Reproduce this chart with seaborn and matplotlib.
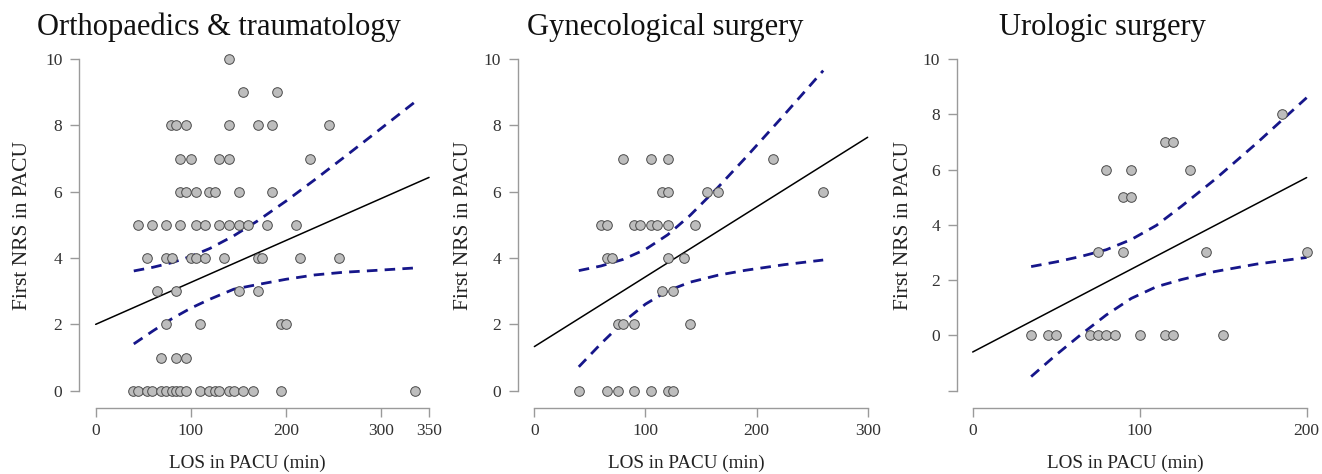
import numpy as np
import pandas as pd
import matplotlib
matplotlib.use("Agg")
import matplotlib.pyplot as plt
import seaborn as sns

# ---------------- data ----------------
panel_titles = ["Orthopaedics & traumatology", "Gynecological surgery", "Urologic surgery"]
x_label = "LOS in PACU (min)"
y_label = "First NRS in PACU"

# Orthopaedics & traumatology
ortho_los = [140,
             155, 190,
             79, 84, 95, 140, 170, 185, 245,
             89, 100, 130, 140, 225,
             89, 95, 105, 119, 125, 150, 185,
             44, 59, 74, 89, 105, 115, 130, 140, 150, 160, 180, 210,
             54, 74, 80, 100, 105, 115, 135, 170, 175, 215, 255,
             64, 84, 150, 170,
             74, 110, 195, 200,
             69, 84, 95,
             39, 44, 54, 59, 69, 74, 80, 84, 89, 95, 110, 119, 125, 130, 140, 145, 155, 165, 195, 335]
ortho_nrs = [10,
             9, 9,
             8, 8, 8, 8, 8, 8, 8,
             7, 7, 7, 7, 7,
             6, 6, 6, 6, 6, 6, 6,
             5, 5, 5, 5, 5, 5, 5, 5, 5, 5, 5, 5,
             4, 4, 4, 4, 4, 4, 4, 4, 4, 4, 4,
             3, 3, 3, 3,
             2, 2, 2, 2,
             1, 1, 1,
             0, 0, 0, 0, 0, 0, 0, 0, 0, 0, 0, 0, 0, 0, 0, 0, 0, 0, 0, 0]
ortho_fit_x = [0, 350]
ortho_fit_y = [2.0, 6.43]
ortho_ci_x = [40, 60, 80, 100, 120, 145, 170, 200, 230, 260, 290, 335]
ortho_ci_upper = [3.61, 3.72, 3.86, 4.05, 4.29, 4.67, 5.12, 5.72, 6.36, 7.02, 7.69, 8.70]
ortho_ci_lower = [1.41, 1.80, 2.17, 2.49, 2.76, 3.06, 3.20, 3.36, 3.49, 3.57, 3.62, 3.70]
ortho_xticks = [0, 100, 200, 300, 350]

# Gynecological surgery
gyn_los = [80, 105, 120, 215,
           115, 120, 155, 165, 260,
           60, 65, 90, 95, 105, 110, 120, 145,
           65, 70, 120, 135,
           115, 125,
           75, 80, 90, 140,
           40, 65, 75, 90, 105, 120, 125]
gyn_nrs = [7, 7, 7, 7,
           6, 6, 6, 6, 6,
           5, 5, 5, 5, 5, 5, 5, 5,
           4, 4, 4, 4,
           3, 3,
           2, 2, 2, 2,
           0, 0, 0, 0, 0, 0, 0]
gyn_fit_x = [0, 300]
gyn_fit_y = [1.33, 7.64]
gyn_ci_x = [40, 60, 80, 100, 120, 140, 165, 190, 225, 260]
gyn_ci_upper = [3.62, 3.76, 3.96, 4.26, 4.70, 5.28, 6.12, 7.02, 8.32, 9.65]
gyn_ci_lower = [0.72, 1.42, 2.07, 2.61, 3.01, 3.27, 3.48, 3.63, 3.80, 3.94]
gyn_xticks = [0, 100, 200, 300]

# Urologic surgery
uro_los = [185,
           115, 120,
           80, 95, 130,
           90, 95,
           75, 90, 140, 200,
           35, 45, 50, 70, 75, 80, 85, 100, 115, 120, 150]
uro_nrs = [8,
           7, 7,
           6, 6, 6,
           5, 5,
           3, 3, 3, 3,
           0, 0, 0, 0, 0, 0, 0, 0, 0, 0, 0]
uro_fit_x = [0, 200]
uro_fit_y = [-0.60, 5.71]
uro_ci_x = [35, 50, 65, 80, 95, 110, 125, 145, 170, 200]
uro_ci_upper = [2.49, 2.66, 2.86, 3.10, 3.47, 3.98, 4.67, 5.64, 6.95, 8.60]
uro_ci_lower = [-1.49, -0.70, 0.04, 0.74, 1.34, 1.76, 2.02, 2.31, 2.58, 2.82]
uro_xticks = [0, 100, 200]

yticks_std = [0, 2, 4, 6, 8, 10]
yticks_uro = [-2, 0, 2, 4, 6, 8, 10]

# ---------------- figure ----------------
sns.set_theme(style="white")
plt.rcParams["font.family"] = ["Liberation Serif", "DejaVu Serif"]

W, H = 1322, 474
fig = plt.figure(figsize=(W / 100, H / 100), dpi=100)

def add_px_axes(left, right, top, bottom):
    return fig.add_axes([left / W, 1 - bottom / H, (right - left) / W, (bottom - top) / H])

panels = [
    dict(box=(79, 445.7, 42, 407.7), xlim=(-17.5, 367.5), ylim=(-0.5125, 10.5125),
         los=ortho_los, nrs=ortho_nrs, fx=ortho_fit_x, fy=ortho_fit_y,
         cx=ortho_ci_x, cu=ortho_ci_upper, cl=ortho_ci_lower,
         xt=ortho_xticks, yt=yticks_std, title_x=219, xlab_x=247.5, ylab_x=23),
    dict(box=(517.7, 884.3, 42, 407.7), xlim=(-15.0, 315.0), ylim=(-0.5125, 10.5125),
         los=gyn_los, nrs=gyn_nrs, fx=gyn_fit_x, fy=gyn_fit_y,
         cx=gyn_ci_x, cu=gyn_ci_upper, cl=gyn_ci_lower,
         xt=gyn_xticks, yt=yticks_std, title_x=665, xlab_x=686.7, ylab_x=463),
    dict(box=(956.7, 1321.5, 42, 407.7), xlim=(-9.58, 208.9), ylim=(-2.615, 10.615),
         los=uro_los, nrs=uro_nrs, fx=uro_fit_x, fy=uro_fit_y,
         cx=uro_ci_x, cu=uro_ci_upper, cl=uro_ci_lower,
         xt=uro_xticks, yt=yticks_uro, title_x=1102, xlab_x=1125, ylab_x=903),
]

axis_col = "#9a9a9a"
band_col = "#16168a"

for title, p in zip(panel_titles, panels):
    ax = add_px_axes(*p["box"])
    df = pd.DataFrame({"los": p["los"], "nrs": p["nrs"]})
    # fit line
    sns.lineplot(x=p["fx"], y=p["fy"], ax=ax, color="black", linewidth=1.1,
                 estimator=None, sort=False, zorder=2)
    # confidence band
    sns.lineplot(x=p["cx"], y=p["cu"], ax=ax, color=band_col, linewidth=2.0,
                 linestyle=(0, (3.8, 2.6)), estimator=None, sort=False, zorder=3)
    sns.lineplot(x=p["cx"], y=p["cl"], ax=ax, color=band_col, linewidth=2.0,
                 linestyle=(0, (3.8, 2.6)), estimator=None, sort=False, zorder=3)
    # points
    sns.scatterplot(data=df, x="los", y="nrs", ax=ax, s=48, color="#bdbdbd",
                    edgecolor="#4a4a4a", linewidth=0.7, zorder=4)

    ax.set_xlim(*p["xlim"])
    ax.set_ylim(*p["ylim"])
    ax.set_facecolor("none")
    for side in ["top", "right"]:
        ax.spines[side].set_visible(False)
    for side in ["left", "bottom"]:
        ax.spines[side].set_color(axis_col)
        ax.spines[side].set_linewidth(1.0)
    ax.spines["left"].set_bounds(p["yt"][0], p["yt"][-1])
    ax.spines["bottom"].set_bounds(p["xt"][0], p["xt"][-1])

    ax.set_xticks(p["xt"])
    ax.set_xticklabels([str(v) for v in p["xt"]])
    ax.set_yticks(p["yt"])
    ax.set_yticklabels(["" if v < 0 else str(v) for v in p["yt"]])
    ax.tick_params(axis="both", which="both", direction="out", length=6.5, width=1.0,
                   color=axis_col, labelcolor="#333333", labelsize=12.5,
                   left=True, bottom=True)
    ax.tick_params(axis="y", pad=5.5)
    ax.tick_params(axis="x", pad=4.5)
    ax.set_xlabel("")
    ax.set_ylabel("")
    ax.grid(False)

    fig.text(p["title_x"] / W, 1 - 35 / H, title, ha="center", va="baseline",
             fontsize=22, color="#111111")
    fig.text(p["xlab_x"] / W, 1 - 467.7 / H, x_label, ha="center", va="baseline",
             fontsize=13.8, color="#222222")
    fig.text(p["ylab_x"] / W, 1 - 225 / H, y_label, ha="center", va="center",
             rotation=90, fontsize=15.5, color="#222222")

fig.savefig("out.png", dpi=100)
